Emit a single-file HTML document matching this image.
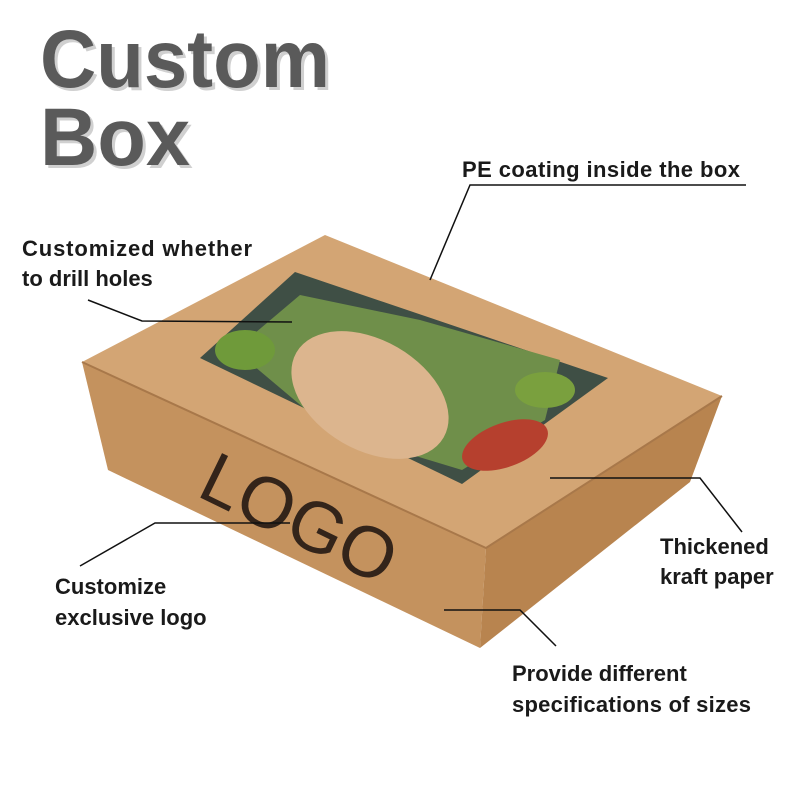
<!DOCTYPE html>
<html><head><meta charset="utf-8"><style>
html,body{margin:0;padding:0;background:#fff;width:800px;height:800px;overflow:hidden}
svg text{font-family:"Liberation Sans",sans-serif}
</style></head><body>
<svg width="800" height="800" viewBox="0 0 800 800" xmlns="http://www.w3.org/2000/svg">
<rect width="800" height="800" fill="#fff"/>
<!-- title -->
<g font-weight="bold" font-size="82">
<text x="43" y="90" fill="#d0d0d0" textLength="290" lengthAdjust="spacingAndGlyphs">Custom</text>
<text x="40" y="87" fill="#5a5a5a" textLength="290" lengthAdjust="spacingAndGlyphs">Custom</text>
<text x="43" y="168" fill="#d0d0d0" textLength="150" lengthAdjust="spacingAndGlyphs">Box</text>
<text x="40" y="165" fill="#5a5a5a" textLength="150" lengthAdjust="spacingAndGlyphs">Box</text>
</g>
<!-- box -->
<polygon points="82,362 486,548 480,648 108,470" fill="#c4925e"/>
<polygon points="486,548 722,396 690,482 480,648" fill="#b8844f"/>
<polygon points="82,362 325,235 722,396 486,548" fill="#d3a574"/>
<polyline points="82,362 486,548 722,396" fill="none" stroke="#a8784a" stroke-width="2"/>
<!-- window -->
<polygon points="200,358 295,272 608,378 462,484" fill="#3f4f45"/>
<polygon points="235,350 300,295 420,320 560,360 545,420 462,470 330,430" fill="#6f8f4a"/>
<ellipse cx="370" cy="395" rx="85" ry="55" fill="#dcb58e" transform="rotate(30 370 395)"/>
<ellipse cx="505" cy="445" rx="45" ry="22" fill="#b6402e" transform="rotate(-20 505 445)"/>
<ellipse cx="245" cy="350" rx="30" ry="20" fill="#6f9a3a"/>
<ellipse cx="545" cy="390" rx="30" ry="18" fill="#7aa03e"/>
<!-- logo -->
<text x="195" y="495" font-size="72" fill="#33241a" transform="rotate(26 195 495)">LOGO</text>
<!-- leader lines -->
<g stroke="#111" stroke-width="1.5" fill="none">
<polyline points="746,185 470,185 430,280"/>
<polyline points="88,300 142,321 292,322"/>
<polyline points="80,566 155,523 290,523"/>
<polyline points="742,532 700,478 550,478"/>
<polyline points="556,646 520,610 444,610"/>
</g>
<!-- labels -->
<g font-weight="bold" font-size="22" fill="#1a1a1a">
<text x="462" y="177" textLength="278">PE coating inside the box</text>
<text x="22" y="256" textLength="230">Customized whether</text>
<text x="22" y="286">to drill holes</text>
<text x="55" y="594">Customize</text>
<text x="55" y="625">exclusive logo</text>
<text x="660" y="554">Thickened</text>
<text x="660" y="584">kraft paper</text>
<text x="512" y="681">Provide different</text>
<text x="512" y="712" textLength="239">specifications of sizes</text>
</g>
</svg>
</body></html>
